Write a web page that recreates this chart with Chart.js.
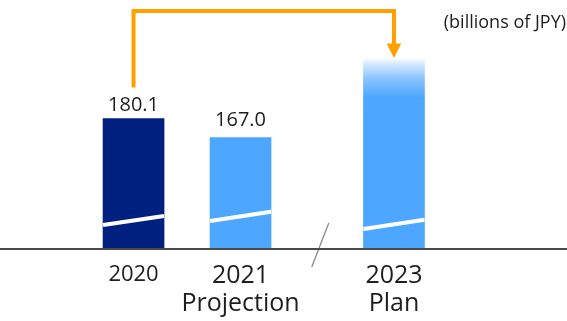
<!DOCTYPE html>
<html>
<head>
<meta charset="utf-8">
<script src="https://cdn.jsdelivr.net/npm/chart.js@4/dist/chart.umd.min.js"></script>
<style>
  html, body { margin: 0; padding: 0; background: #ffffff; }
  #wrap { width: 567px; height: 321px; position: relative; }
</style>
</head>
<body>
<div id="wrap"><canvas id="c"></canvas></div>
<script>
// ---- data ----
const years = [2020, 2021, 2023];
const tickLabels = [["2020"], ["2021", "Projection"], ["2023", "Plan"]];
const values = [180.1, 167.0, 222];          // last bar is unlabeled; height estimated
const valueLabels = ["180.1", "167.0", ""];
const unitLabel = "(billions of JPY)";

// ---- axis-break settings (style / layout) ----
const X_BREAK_AFTER = 2021;   // x axis is broken between 2021 and 2023
const X_BREAK_SHRINK = 0.566; // portion of the gap removed by the break
const xPos = (yr) => yr > X_BREAK_AFTER ? yr - X_BREAK_SHRINK : yr;

const FONT = "'Open Sans', 'Noto Sans', sans-serif";
const NAVY = '#00207f';
const LIGHT = '#4da6ff';
const ORANGE = '#ffa000';

const barColors = [NAVY, LIGHT, LIGHT];
const breakOffsets = [28.5, 32.7, 24.7]; // white break stripe, px above baseline
const labelGaps = [8, 12, 0];

const decorPlugin = {
  id: 'decor',
  afterDatasetsDraw(chart) {
    const ctx = chart.ctx;
    const meta = chart.getDatasetMeta(0);
    const area = chart.chartArea;
    const base = area.bottom;
    const bars = meta.data;

    ctx.save();
    // white slanted break stripes on bars
    ctx.strokeStyle = '#ffffff';
    ctx.lineWidth = 4;
    ctx.lineCap = 'butt';
    const rise = 9.2;
    bars.forEach((bar, i) => {
      const l = bar.x - bar.width / 2, r = bar.x + bar.width / 2;
      const cy = base - breakOffsets[i];
      ctx.beginPath();
      ctx.moveTo(l, cy + rise / 2);
      ctx.lineTo(r, cy - rise / 2);
      ctx.stroke();
    });

    // gray slash on the x axis between bar 2 and bar 3
    const mid = ((bars[1].x + bars[1].width / 2) + (bars[2].x - bars[2].width / 2)) / 2 + 3;
    ctx.strokeStyle = '#8a8a8a';
    ctx.lineWidth = 1.3;
    ctx.beginPath();
    ctx.moveTo(mid + 8.5, base - 26);
    ctx.lineTo(mid - 8.5, base + 18);
    ctx.stroke();

    // value labels
    ctx.fillStyle = '#1e1e1e';
    ctx.font = '20px ' + FONT;
    ctx.textAlign = 'center';
    ctx.textBaseline = 'alphabetic';
    bars.forEach((bar, i) => {
      if (valueLabels[i]) ctx.fillText(valueLabels[i], bar.x, bar.y - labelGaps[i]);
    });

    // orange arrow from 2020 to 2023
    const x0 = bars[0].x, x1 = bars[2].x;
    const y0 = bars[0].y - 31;
    const yTop = area.top + 11;
    const tipY = bars[2].y;
    const headH = 14.5, headW = 7.3;
    ctx.strokeStyle = ORANGE;
    ctx.fillStyle = ORANGE;
    ctx.lineWidth = 4;
    ctx.lineJoin = 'miter';
    ctx.beginPath();
    ctx.moveTo(x0, y0);
    ctx.lineTo(x0, yTop);
    ctx.lineTo(x1, yTop);
    ctx.lineTo(x1, tipY - headH + 1);
    ctx.stroke();
    ctx.beginPath();
    ctx.moveTo(x1 - headW, tipY - headH);
    ctx.lineTo(x1 + headW, tipY - headH);
    ctx.lineTo(x1, tipY);
    ctx.closePath();
    ctx.fill();

    // unit label
    ctx.fillStyle = '#1e1e1e';
    ctx.font = '18px ' + FONT;
    ctx.textAlign = 'right';
    ctx.fillText(unitLabel, chart.width - 1, 28);
    ctx.restore();
  }
};

const points = years.map((yr, i) => ({ x: xPos(yr), y: values[i] }));

new Chart(document.getElementById('c'), {
  type: 'bar',
  data: {
    datasets: [{
      data: points,
      barThickness: 61,
      borderWidth: 0,
      backgroundColor: (c) => {
        const i = c.dataIndex;
        if (i !== 2) return barColors[i];
        const chart = c.chart;
        if (!chart.chartArea) return LIGHT;
        const top = chart.scales.y.getPixelForValue(values[i]);
        const g = chart.ctx.createLinearGradient(0, top, 0, top + 40);
        g.addColorStop(0, '#ffffff');
        g.addColorStop(0.12, '#dcedff');
        g.addColorStop(0.5, '#8cc5ff');
        g.addColorStop(1, LIGHT);
        return g;
      }
    }]
  },
  options: {
    responsive: true,
    maintainAspectRatio: false,
    animation: false,
    layout: { padding: 0 },
    plugins: { legend: { display: false }, tooltip: { enabled: false }, title: { display: false } },
    scales: {
      x: {
        type: 'linear',
        offset: false,
        min: 2018.752,
        max: 2024.051,
        grid: { display: false, drawTicks: false, offset: false },
        border: { display: true, color: '#4a4a4a', width: 2, z: 1 },
        afterBuildTicks: (scale) => { scale.ticks = years.map(yr => ({ value: xPos(yr) })); },
        afterFit: (scale) => { scale.height = 72; },
        ticks: {
          autoSkip: false,
          maxRotation: 0,
          minRotation: 0,
          padding: 13,
          color: '#1e1e1e',
          font: (c) => ({ family: FONT, size: c.index === 0 ? 22 : 25, lineHeight: 1.12 }),
          callback: (value, index) => tickLabels[index]
        }
      },
      y: {
        display: false,
        min: 90,
        max: 262,
        grid: { display: false }
      }
    }
  },
  plugins: [decorPlugin]
});
</script>
</body>
</html>
